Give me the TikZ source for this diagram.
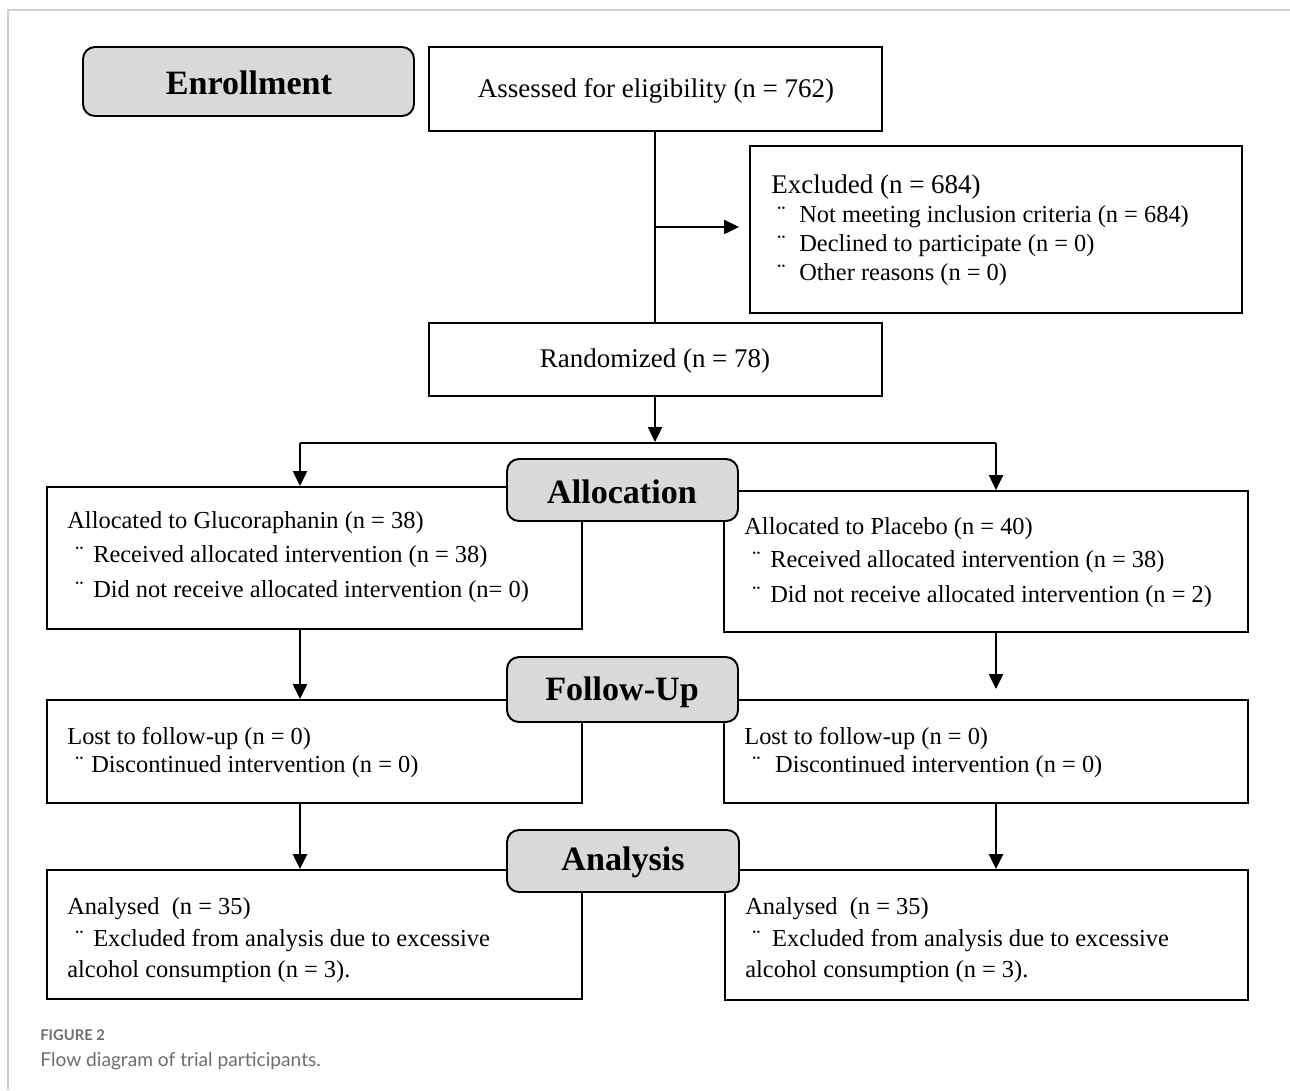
\documentclass[tikz,border=0pt]{standalone}
\usepackage{fontspec}
\setmainfont{Liberation Serif}
\newfontfamily\capfont{Lato}
\usetikzlibrary{arrows.meta,fit}
\definecolor{headgray}{HTML}{D9D9D9}
\definecolor{framegray}{HTML}{D0D0D0}
\definecolor{capgray}{HTML}{6E6E6E}
\newcommand{\bul}[1]{\makebox[#1][l]{¨}}
\begin{document}
\begin{tikzpicture}[x=0.02cm,y=-0.02cm,
  box/.style={draw, line width=1.1pt, inner sep=0pt},
  head/.style={draw, line width=1.1pt, inner sep=0pt, fill=headgray, rounded corners=0.24cm},
  headtxt/.style={inner sep=0pt, font=\bfseries\fontsize{19.4}{22}\selectfont},
  bigtxt/.style={inner sep=0pt, font=\fontsize{15.36}{18}\selectfont},
  txt/.style={anchor=base west, inner sep=0pt, font=\fontsize{13.9}{16}\selectfont},
  ln/.style={line width=1.1pt},
  arr/.style={line width=1.1pt, -{Triangle[width=8pt,length=8.5pt]}},
  capt/.style={anchor=base west, inner sep=0pt, text=capgray}]
\useasboundingbox (0,0) rectangle (1290,1090);
\draw[framegray, line width=1.1pt] (1290,10) -- (8,10) -- (8,1090);

% boxes
\node[box, fit={(429,47)(882,131)}] (assess) {};
\node[box, fit={(750,146)(1242,313)}] (excl) {};
\node[box, fit={(429,323)(882,396)}] (rand) {};
\node[box, fit={(47,487)(582,629)}] (lalloc) {};
\node[box, fit={(724,491)(1248,632)}] (ralloc) {};
\node[box, fit={(47,700)(582,803)}] (lfol) {};
\node[box, fit={(724,700)(1248,803)}] (rfol) {};
\node[box, fit={(47,870)(582,999)}] (lana) {};
\node[box, fit={(725,870)(1248,1000)}] (rana) {};
\node[bigtxt] (assesst) at (656,91) {Assessed for eligibility (n = 762)};
\node[bigtxt] (randt) at (655,361) {Randomized (n = 78)};

% headings
\node[head, fit={(83,47)(414,116)}] (henr) {};
\node[head, fit={(507,459)(738,521)}] (halloc) {};
\node[head, fit={(507,657)(738,722)}] (hfol) {};
\node[head, fit={(507,830)(739,892)}] (hana) {};
\node[headtxt] (henrt) at (249,83) {Enrollment};
\node[headtxt] (hallt) at (622,492) {Allocation};
\node[headtxt] (hfolt) at (622,692) {Follow-Up};
\node[headtxt] (hanat) at (623,862) {Analysis};

% texts
\node[bigtxt, anchor=base west] (ex0) at (771,193) {Excluded (n = 684)};
\node[txt] (ex1) at (777,222) {\bul{12.5pt}Not meeting inclusion criteria (n = 684)};
\node[txt] (ex2) at (777,251) {\bul{12.5pt}Declined to participate (n = 0)};
\node[txt] (ex3) at (777,280) {\bul{12.5pt}Other reasons (n = 0)};

\node[txt] (la0) at (67,528) {Allocated to Glucoraphanin (n = 38)};
\node[txt] (la1) at (75,562) {\bul{10.2pt}Received allocated intervention (n = 38)};
\node[txt] (la2) at (75,597) {\bul{10.2pt}Did not receive allocated intervention (n= 0)};

\node[txt] (ra0) at (744,534) {Allocated to Placebo (n = 40)};
\node[txt] (ra1) at (752,567) {\bul{10.2pt}Received allocated intervention (n = 38)};
\node[txt] (ra2) at (752,602) {\bul{10.2pt}Did not receive allocated intervention (n = 2)};

\node[txt] (lf0) at (67,744) {Lost to follow-up (n = 0)};
\node[txt] (lf1) at (75,772) {\bul{9.1pt}Discontinued intervention (n = 0)};
\node[txt] (rf0) at (744,744) {Lost to follow-up (n = 0)};
\node[txt] (rf1) at (752,772) {\bul{13pt}Discontinued intervention (n = 0)};

\node[txt] (ln0) at (67,914) {Analysed\ \ (n = 35)};
\node[txt] (ln1) at (75,946) {\bul{10.2pt}Excluded from analysis due to excessive};
\node[txt] (ln2) at (67,977) {alcohol consumption (n = 3).};
\node[txt] (rn0) at (745,914) {Analysed\ \ (n = 35)};
\node[txt] (rn1) at (752,946) {\bul{11.3pt}Excluded from analysis due to excessive};
\node[txt] (rn2) at (745,977) {alcohol consumption (n = 3).};

% connectors
\coordinate (exsrc) at (655,227);
\draw[ln] (exsrc |- assess.south) -- (exsrc |- rand.north);
\draw[arr, shorten >=5.7pt] (exsrc) -- (exsrc -| excl.west);
\coordinate (split) at (655,442);
\draw[arr] (split |- rand.south) -- (split);
\coordinate (sl) at (300,443);
\coordinate (sr) at (996,443);
\draw[ln] (sl) -- (sr);
\draw[arr] (sl) -- (sl |- lalloc.north);
\draw[arr] (sr) -- (sr |- ralloc.north);
\draw[arr] (sl |- lalloc.south) -- (sl |- lfol.north);
\draw[arr, shorten >=5.7pt] (sr |- ralloc.south) -- (sr |- rfol.north);
\draw[arr] (sl |- lfol.south) -- (sl |- lana.north);
\draw[arr] (sr |- rfol.south) -- (sr |- rana.north);

% caption
\node[capt, font=\capfont\bfseries\fontsize{8.4}{10}\selectfont] (fig) at (40,1040) {FIGURE 2};
\node[capt, font=\capfont\fontsize{10.9}{13}\selectfont] (cap) at (40,1066) {Flow diagram of trial participants.};
\end{tikzpicture}
\end{document}
